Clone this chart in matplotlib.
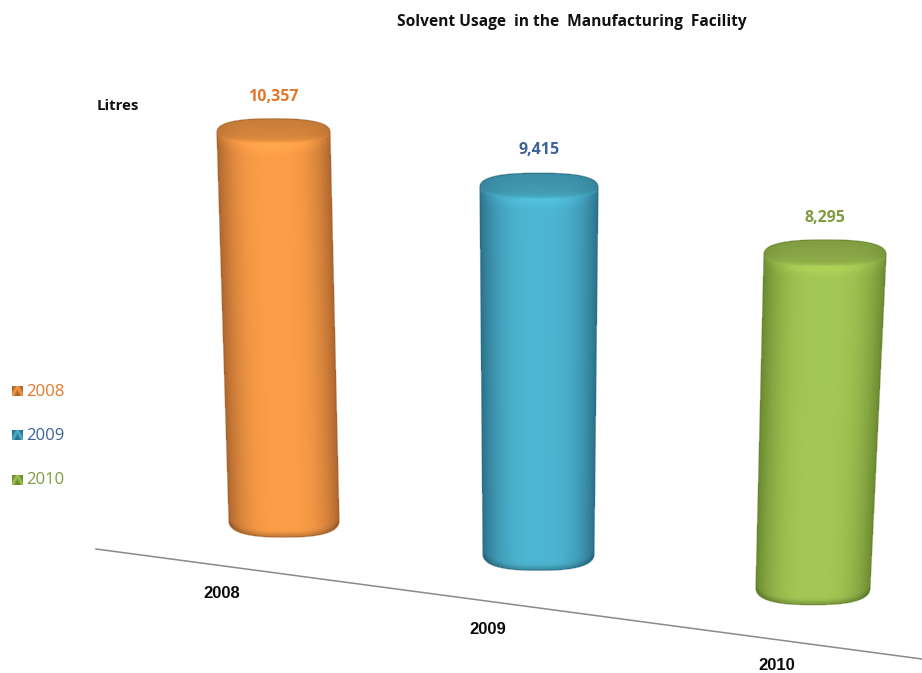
import numpy as np
import matplotlib
matplotlib.use("Agg")
import matplotlib.pyplot as plt
from matplotlib.patches import Polygon

years = ["2008", "2009", "2010"]
usage = [10357, 9415, 8295]

title = "Solvent Usage  in the  Manufacturing  Facility"
unit_label = "Litres"

# body colours at the middle and the rim of each cylinder
mid_colors = [(0.99, 0.62, 0.28), (0.30, 0.71, 0.82), (0.64, 0.78, 0.33)]
rim_colors = [(0.68, 0.40, 0.18), (0.17, 0.44, 0.54), (0.42, 0.54, 0.19)]
text_colors = ["#e0782a", "#3c6497", "#7f9a3f"]

# perspective layout, in pixels of the 922x673 canvas
base_x = [284, 538.5, 813]
base_y = [520, 553, 587]
top_x = [273.5, 539, 825]
half_w_base = [55, 55.5, 57]
half_w_top = [56.5, 59, 61]
px_per_litre = [0.03737, 0.03877, 0.0400]

BLUNT = 2 / 2.6  # exponent that squares the ellipses off a little


def spow(a, p):
    return np.sign(a) * np.abs(a) ** p


def draw_cylinder(ax, i, value):
    cx0, cy0 = base_x[i], base_y[i]
    cx1, cy1 = top_x[i], cy0 - value * px_per_litre[i]
    w0, w1 = half_w_base[i], half_w_top[i]
    b0, b1 = w0 * 0.31, w1 * 0.25
    b_front = b1 * 0.72
    mid = np.array(mid_colors[i])
    rim = np.array(rim_colors[i])

    theta = np.linspace(-np.pi / 2, np.pi / 2, 400)
    v = np.linspace(0, 1, 600)
    T, V = np.meshgrid(theta, v)
    U = spow(np.sin(T), BLUNT)
    D = spow(np.cos(T), BLUNT)
    length = cy0 - cy1
    X = (cx0 + w0 * U) * (1 - V) + (cx1 + w1 * U) * V
    Y = (cy0 + b0 * D) * (1 - V) + (cy1 + b_front * D) * V

    k = (np.abs(np.sin(T)) ** 2.2)[..., None]
    C = mid[None, None, :] * (1 - k) + rim[None, None, :] * k
    # light band below the top edge, thin dark line along the base
    C = C * (1 + 0.06 * np.exp(-(((1 - V) * length - 2) / 6) ** 2)[..., None])
    C = C * (1 - 0.20 * np.exp(-(V * length / 4) ** 2)[..., None])

    # top cap, darker than the body and fading into it at the front
    r = np.linspace(0, 1, 120)
    phi = np.linspace(0, 2 * np.pi, 500)
    R, P = np.meshgrid(r, phi)
    sin_p = np.sin(P)
    b_cap = np.where(sin_p > 0, b_front, b1)
    Xc = cx1 + w1 * R * spow(np.cos(P), BLUNT)
    Yc = cy1 + b_cap * R * spow(sin_p, BLUNT)
    front = (0.5 + 0.5 * R * sin_p)[..., None]
    side = (np.abs(R * np.cos(P)) ** 3)[..., None]
    Cc = mid * 0.78 * (1 - front) + mid * 0.90 * front
    glow = (np.clip(sin_p, 0, 1) * R ** 6)[..., None]
    Cc = Cc * (1 - glow) + mid * 1.04 * glow
    Cc = Cc * (1 - side * 0.5) + rim * side * 0.5

    # one outline clips both meshes so the edge stays smooth
    arc = np.linspace(np.pi, 2 * np.pi, 80)
    outline = np.vstack([
        np.column_stack([X[:, 0], Y[:, 0]]),
        np.column_stack([cx1 + w1 * spow(np.cos(arc), BLUNT), cy1 + b1 * spow(np.sin(arc), BLUNT)]),
        np.column_stack([X[::-1, -1], Y[::-1, -1]]),
        np.column_stack([X[0, ::-1], Y[0, ::-1]]),
    ])
    clip = Polygon(outline, closed=True, transform=ax.transData)

    body = ax.pcolormesh(X, Y, np.clip(C, 0, 1)[:-1, :-1], shading="flat", zorder=2)
    cap = ax.pcolormesh(Xc, Yc, np.clip(Cc, 0, 1)[:-1, :-1], shading="flat", zorder=3)
    body.set_clip_path(clip)
    cap.set_clip_path(clip)
    ax.fill(outline[:, 0], outline[:, 1], fc="none", ec=rim * 0.95, lw=0.9, alpha=0.7, zorder=4)
    return cx1, cy1 - b1


fig = plt.figure(figsize=(9.22, 6.73), dpi=100, facecolor="white")
ax = fig.add_axes([0, 0, 1, 1])
ax.set_xlim(0, 922)
ax.set_ylim(673, 0)
ax.axis("off")

sans = "Open Sans"

ax.text(572, 22, title, ha="center", va="center", fontsize=11.2, fontweight="bold",
        family=sans, color="#111111")
ax.text(118, 106, unit_label, ha="center", va="center", fontsize=10.8, fontweight="bold",
        family=sans, color="#111111")

# floor line
ax.plot([96, 922], [549, 659], color="#8a8a8a", lw=1.1, zorder=1)

value_label_gap = [22, 23, 22]
xlabel_pos = [(222, 593), (488, 629), (777, 666)]
legend_y = [391, 435, 480]

for i, (year, value) in enumerate(zip(years, usage)):
    x_top, y_top = draw_cylinder(ax, i, value)
    ax.text(x_top, y_top - value_label_gap[i], f"{value:,}", ha="center", va="center",
            fontsize=11.5, fontweight="bold", family=sans, color=text_colors[i])
    ax.text(xlabel_pos[i][0], xlabel_pos[i][1], year, ha="center", va="center",
            fontsize=12, fontweight="bold", family="Liberation Sans", color="#0a0a0a")

    # legend swatch and label
    gx, gy = np.meshgrid(np.linspace(-1, 1, 12), np.linspace(-1, 1, 12))
    mix = np.clip(1 - np.abs(np.abs(gx) - (gy + 1) / 2) * 1.6, 0, 1)[..., None]
    swatch = np.array(rim_colors[i]) * (1 - mix) + np.array(mid_colors[i]) * mix
    ax.imshow(swatch, extent=(12, 23, legend_y[i] + 5, legend_y[i] - 5), aspect="auto", zorder=2)
    ax.text(26, legend_y[i] + 0.5, year, ha="left", va="center", fontsize=12,
            family=sans, color=text_colors[i])

ax.set_xlim(0, 922)
ax.set_ylim(673, 0)
fig.savefig("out.png", dpi=100, facecolor="white")
